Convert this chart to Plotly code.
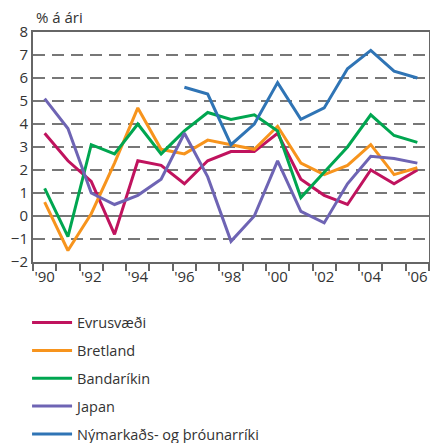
import plotly.graph_objects as go

years = list(range(1990, 2007))
evrusvaedi = [3.6, 2.4, 1.5, -0.8, 2.4, 2.2, 1.4, 2.4, 2.8, 2.8, 3.6, 1.6, 0.9, 0.5, 2.0, 1.4, 2.0]
bretland = [0.6, -1.5, 0.1, 2.3, 4.7, 2.9, 2.7, 3.3, 3.1, 2.9, 3.9, 2.3, 1.8, 2.2, 3.1, 1.8, 2.1]
bandarikin = [1.2, -0.9, 3.1, 2.7, 4.0, 2.7, 3.7, 4.5, 4.2, 4.4, 3.7, 0.8, 1.9, 3.0, 4.4, 3.5, 3.2]
japan = [5.1, 3.8, 1.0, 0.5, 0.9, 1.6, 3.6, 1.7, -1.1, 0.0, 2.4, 0.2, -0.3, 1.4, 2.6, 2.5, 2.3]
nymarkads_years = list(range(1996, 2007))
nymarkads = [5.6, 5.3, 3.1, 4.0, 5.8, 4.2, 4.7, 6.4, 7.2, 6.3, 6.0]

tick_years = list(range(1990, 2007, 2))
tick_labels = ["'90", "'92", "'94", "'96", "'98", "'00", "'02", "'04", "'06"]

series = [
    ("Evrusvæði", years, evrusvaedi, "#C0135E"),
    ("Bretland", years, bretland, "#F7941D"),
    ("Bandaríkin", years, bandarikin, "#00A650"),
    ("Japan", years, japan, "#6E64B4"),
    ("Nýmarkaðs- og þróunarríki", nymarkads_years, nymarkads, "#2F74B5"),
]

fig = go.Figure()
for i, (name, xs, ys, col) in enumerate(series):
    fig.add_trace(go.Scatter(x=xs, y=ys, name=name, mode="lines",
                             line=dict(color=col, width=3),
                             legendgroup=f"g{i}"))

font_family = "Open Sans, Noto Sans, sans-serif"
axis_col = "#666666"

fig.update_layout(
    width=430, height=443,
    margin=dict(l=33, r=1, t=32, b=181, autoexpand=False),
    paper_bgcolor="white", plot_bgcolor="white",
    font=dict(family=font_family, color="#333333", size=15),
    showlegend=True,
    legend=dict(x=-0.015, y=-0.194, xanchor="left", yanchor="top",
                font=dict(size=14.5, color="#333333"),
                traceorder="grouped", tracegroupgap=6,
                itemwidth=40, bgcolor="rgba(0,0,0,0)"),
    xaxis=dict(range=[1989.5, 2006.5], tickvals=tick_years, ticktext=tick_labels,
               ticks="", showgrid=False, showline=True, linecolor=axis_col,
               linewidth=2, mirror=True, zeroline=False, automargin=False,
               tickfont=dict(size=15, color="#333333"),
               minor=dict(tick0=1989.5, dtick=1, ticks="outside", ticklen=7,
                          tickcolor=axis_col, tickwidth=1.5, showgrid=False)),
    yaxis=dict(range=[-2, 8], dtick=1, tick0=0, showgrid=True, gridcolor="#777777",
               griddash="12px,7px", gridwidth=1.5, showline=True,
               linecolor=axis_col, linewidth=2, mirror=True, automargin=False,
               zeroline=True, zerolinecolor="#777777", zerolinewidth=1.5,
               ticks="", tickfont=dict(size=15, color="#333333")),
    annotations=[dict(text="% á ári", xref="paper", yref="paper", x=0.0, y=1.0,
                      xanchor="left", yanchor="bottom", showarrow=False, yshift=3,
                      xshift=1, font=dict(size=15, color="#333333"))],
)

fig.write_html("out.html", config={"displayModeBar": False},
               post_script="document.body.style.margin='0';document.body.style.overflow='hidden';")
